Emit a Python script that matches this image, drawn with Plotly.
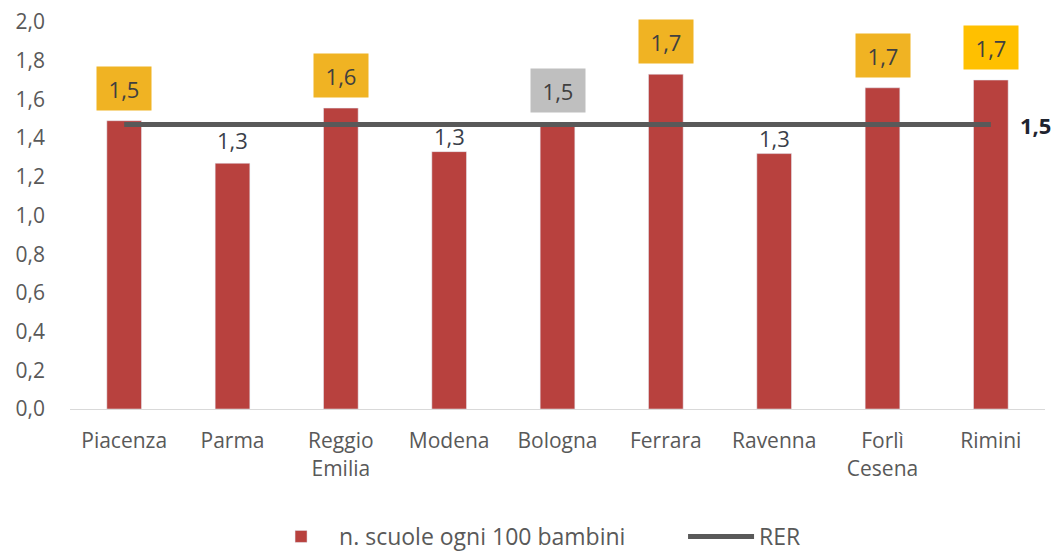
import plotly.graph_objects as go

categories = ["Piacenza", "Parma", "Reggio<br>Emilia", "Modena", "Bologna",
              "Ferrara", "Ravenna", "Forlì<br>Cesena", "Rimini"]
scuole = [1.49, 1.27, 1.555, 1.33, 1.48, 1.73, 1.32, 1.66, 1.70]
rer = [1.47] * len(categories)
label_bg = ["#F0B323", None, "#F0B323", None, "#BFBFBF", "#F0B323", None, "#F0B323", "#FFC000"]
y_ticks = [0.0, 0.2, 0.4, 0.6, 0.8, 1.0, 1.2, 1.4, 1.6, 1.8, 2.0]

FONT = "'Open Sans', Roboto, sans-serif"
GREY = "#595959"

fig = go.Figure()
fig.add_trace(go.Bar(
    x=categories, y=scuole, name="n. scuole ogni 100 bambini",
    marker=dict(color="#B8413E"), width=0.32,
))
fig.add_trace(go.Scatter(
    x=categories, y=rer, name="RER", mode="lines",
    line=dict(color=GREY, width=5),
))

for i, (cat, val, bg) in enumerate(zip(categories, scuole, label_bg)):
    txt = f"{val:.1f}".replace(".", ",")
    if bg:
        fig.add_annotation(x=cat, y=val, text=txt, showarrow=False,
                           yanchor="bottom", yshift=10, bgcolor=bg,
                           width=38, height=27, borderpad=8,
                           font=dict(family=FONT, size=22, color="#404040"))
    else:
        fig.add_annotation(x=cat, y=val, text=txt, showarrow=False,
                           yanchor="bottom", yshift=6 if i == 1 else -1,
                           font=dict(family=FONT, size=22, color="#3A3F4A"))

fig.add_annotation(x=categories[-1], y=rer[-1],
                   text="<b>" + f"{rer[-1]:.1f}".replace(".", ",") + "</b>",
                   showarrow=False, xanchor="left", xshift=27,
                   font=dict(family=FONT, size=22, color="#1F2430"))

# the page body adds an 8px offset; figure is sized to fit the 1059x552 window
fig.update_layout(
    width=1051, height=544,
    margin=dict(l=62, r=14, t=14, b=143, autoexpand=False),
    plot_bgcolor="white", paper_bgcolor="white",
    separators=", ",
    font=dict(family=FONT, size=21, color=GREY),
    showlegend=True,
    legend=dict(orientation="h", x=0.198, xanchor="left", y=-0.385, yanchor="bottom",
                font=dict(family=FONT, size=23, color=GREY), itemwidth=66,
                entrywidth=339, entrywidthmode="pixels",
                traceorder="normal"),
    bargap=0.68,
)
fig.update_xaxes(range=[-0.5, len(categories) - 0.5], autorange=False,
                 showgrid=False, showline=True, linecolor="#D9D9D9", linewidth=1,
                 ticks="", ticklabelstandoff=13, automargin=False,
                 tickfont=dict(family=FONT, size=21, color=GREY))
fig.update_yaxes(range=[0, 2.0], tickvals=y_ticks, tickformat=".1f",
                 showgrid=False, zeroline=False, showline=False,
                 ticklabelstandoff=24, automargin=False, ticklabeloverflow="allow",
                 tickfont=dict(family=FONT, size=21, color=GREY))

fig.write_html("out.html")
